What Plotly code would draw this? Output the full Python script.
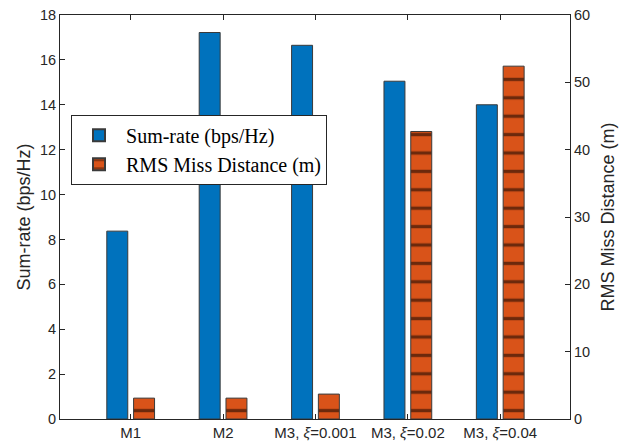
import plotly.graph_objects as go

categories = ["M1", "M2", "M3, <i>ξ</i>=0.001", "M3, <i>ξ</i>=0.02", "M3, <i>ξ</i>=0.04"]
positions = [1, 2, 3, 4, 5]
sum_rate = [8.37, 17.22, 16.65, 15.05, 14.0]
rms_miss = [3.1, 3.1, 3.7, 42.7, 52.4]

left_ticks = [0, 2, 4, 6, 8, 10, 12, 14, 16, 18]
right_ticks = [0, 10, 20, 30, 40, 50, 60]

BLUE = "#0072BD"
ORANGE = "#D95319"
EDGE = "#3a3a3a"
AXC = "#262626"
BAR_W = 0.227

fig = go.Figure()
fig.add_trace(go.Bar(
    x=positions, y=sum_rate, name="Sum-rate (bps/Hz)",
    width=BAR_W, offset=-0.145 - BAR_W / 2,
    marker=dict(color=BLUE, line=dict(color=EDGE, width=1)),
    yaxis="y",
))
fig.add_trace(go.Bar(
    x=positions, y=rms_miss, name="RMS Miss Distance (m)",
    width=BAR_W, offset=0.145 - BAR_W / 2,
    marker=dict(color=ORANGE, line=dict(color=EDGE, width=1),
                pattern=dict(shape="-", size=18.4, solidity=0.18,
                             fgcolor="black", bgcolor=ORANGE, fillmode="overlay")),
    yaxis="y2",
))

tick_font = dict(family="Arial, Liberation Sans, sans-serif", size=14.5, color=AXC)
title_font = dict(family="Arial, Liberation Sans, sans-serif", size=18, color=AXC)

fig.update_layout(
    width=626, height=443,
    margin=dict(l=60, r=56, t=15, b=24, autoexpand=False),
    paper_bgcolor="white", plot_bgcolor="white",
    barmode="overlay",
    showlegend=True,
    legend=dict(
        x=0.0216, y=0.753, xanchor="left", yanchor="top",
        bgcolor="white", bordercolor=AXC, borderwidth=1,
        font=dict(family="Liberation Serif, Times New Roman, serif", size=20, color="black"),
        tracegroupgap=0, itemsizing="constant", itemwidth=44,
    ),
    xaxis=dict(
        range=[0.235, 5.755], automargin=False,
        tickmode="array", tickvals=positions, ticktext=categories,
        ticks="inside", ticklen=5, tickcolor=AXC,
        showline=True, linecolor=AXC, linewidth=1, mirror="ticks",
        showgrid=False, zeroline=False,
        tickfont=dict(family="Arial, Liberation Sans, sans-serif", size=15, color=AXC),
    ),
    yaxis=dict(
        range=[0, 18], tickmode="array", tickvals=left_ticks, automargin=False,
        ticks="inside", ticklen=5, tickcolor=AXC,
        showline=True, linecolor=AXC, linewidth=1,
        showgrid=False, zeroline=False,
        tickfont=tick_font,
        title=dict(text="Sum-rate (bps/Hz)", font=title_font, standoff=4),
    ),
    yaxis2=dict(
        range=[0, 60], tickmode="array", tickvals=right_ticks, automargin=False,
        overlaying="y", side="right",
        ticks="inside", ticklen=5, tickcolor=AXC,
        showline=True, linecolor=AXC, linewidth=1,
        showgrid=False, zeroline=False,
        tickfont=tick_font,
        title=dict(text="RMS Miss Distance (m)", font=title_font, standoff=12),
    ),
)

fig.write_html("out.html")
